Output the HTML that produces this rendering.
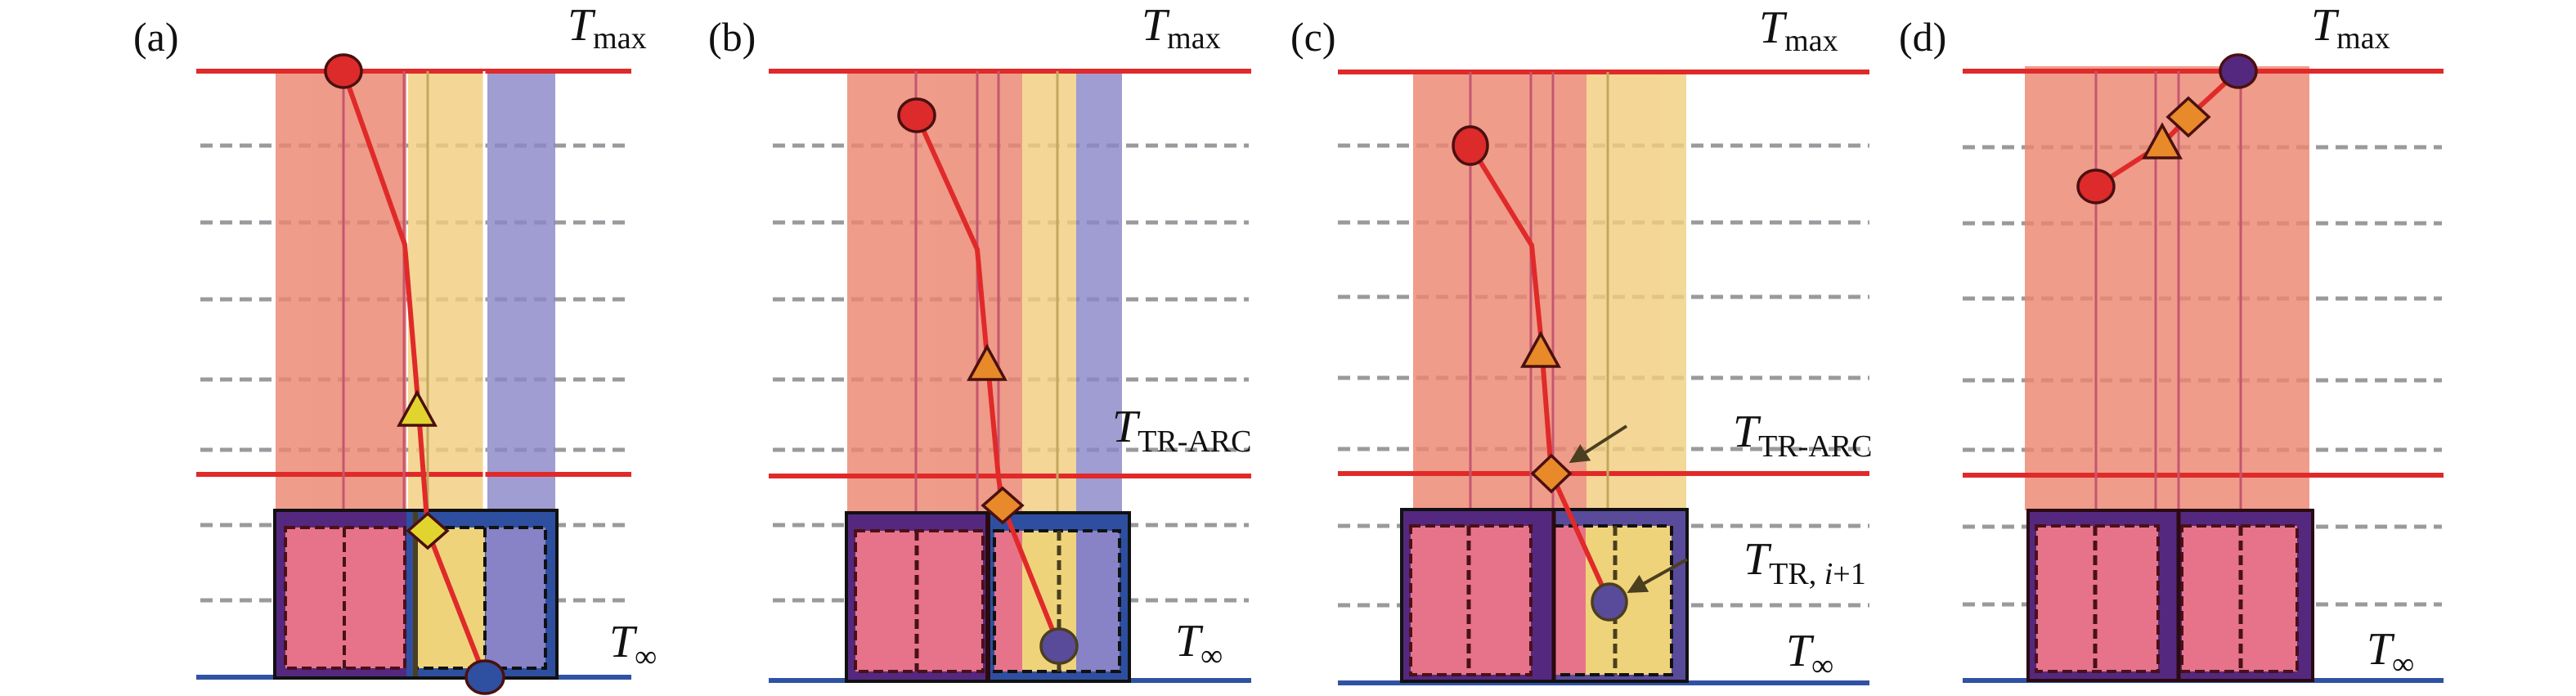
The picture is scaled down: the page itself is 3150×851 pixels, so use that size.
<!DOCTYPE html>
<html><head><meta charset="utf-8"><style>
html,body{margin:0;padding:0;background:#fff;}
svg{display:block;}
text{font-family:"Liberation Serif",serif;fill:#111;}
.T{font-style:italic;font-size:56px;}
.s{font-size:38px;}
.lab{font-size:50px;}
</style></head><body>
<svg width="3150" height="851" viewBox="0 0 3150 851" xmlns="http://www.w3.org/2000/svg">
<defs>
<marker id="ah" markerWidth="6" markerHeight="6" refX="5" refY="3" orient="auto" markerUnits="strokeWidth">
<path d="M0,0 L6,3 L0,6 Z" fill="#4a3f1f"/></marker>
</defs>
<g stroke="#9a9a9e" stroke-width="5" stroke-dasharray="15 9">
<path d="M245 178H770M245 272H770M245 366H770M245 464H770M245 550H770M245 642H770M245 734H770"/>
<path d="M945 178H1527M945 272H1527M945 366H1527M945 464H1527M945 550H1527M945 642H1527M945 734H1527"/>
<path d="M1636 178H2286M1636 272H2286M1636 363H2286M1636 462H2286M1636 549H2286M1636 643H2286M1636 740H2286"/>
<path d="M2400 180H2986M2400 273H2986M2400 365H2986M2400 465H2986M2400 550H2986M2400 644H2986M2400 739H2986"/>
</g>
<g opacity="0.82">
<rect x="337" y="87" width="160" height="537" fill="#eb8670"/>
<rect x="499" y="87" width="94" height="537" fill="#f2cf80"/>
<rect x="596" y="87" width="83" height="537" fill="#8a88c8"/>
<rect x="1036" y="87" width="214" height="540" fill="#eb8670"/>
<rect x="1250" y="87" width="66" height="540" fill="#f2cf80"/>
<rect x="1316" y="87" width="56" height="540" fill="#8a88c8"/>
<rect x="1728" y="88" width="212" height="535" fill="#eb8670"/>
<rect x="1940" y="88" width="122" height="535" fill="#f2cf80"/>
<rect x="2476" y="81" width="348" height="543" fill="#eb8670"/>
</g>
<g stroke="#e02a2a" stroke-width="6">
<path d="M240 87H772M240 580H772"/>
<path d="M940 87H1530M940 582H1530"/>
<path d="M1636 88H2286M1636 579H2286"/>
<path d="M2400 87H2988M2400 581H2988"/>
</g>
<g stroke="#2f52a3" stroke-width="6">
<path d="M240 828H772M940 832H1530M1636 835H2286M2400 832H2988"/>
</g>
<g stroke="#c4566f" stroke-width="3">
<path d="M420 87V624M494 87V624M1120 87V627M1195 87V627M1221 87V627M1798 88V623M1872 88V623M1899 88V623M2563 87V624M2636 87V624M2664 87V624M2740 87V624"/>
</g>
<g stroke="#c2a85e" stroke-width="3"><path d="M523 87V624M1293 87V627M1966 88V623"/></g>
<path d="M592 87V624" stroke="#fff" stroke-width="3"/>

<rect x="336" y="624" width="161" height="205" fill="#55287f"/>
<rect x="497" y="624" width="184" height="205" fill="#2e4fa0"/>
<rect x="349" y="645" width="146" height="172" fill="#e6738a" stroke="#4a1018" stroke-width="4" stroke-dasharray="12 6"/>
<path d="M421 645V817" stroke="#4a1018" stroke-width="4" stroke-dasharray="12 6"/>
<rect x="508" y="645" width="85" height="172" fill="#efd37a"/>
<rect x="594" y="645" width="73" height="172" fill="#8783c6"/>
<rect x="508" y="645" width="159" height="172" fill="none" stroke="#111" stroke-width="4" stroke-dasharray="12 6"/>
<path d="M593 645V817" stroke="#111" stroke-width="4" stroke-dasharray="12 6"/>
<path d="M508 624V829" stroke="#4a3f1f" stroke-width="6"/>
<rect x="336" y="624" width="345" height="205" fill="none" stroke="#111" stroke-width="4"/>

<rect x="1035" y="627" width="173" height="206" fill="#55287f"/>
<rect x="1208" y="627" width="173" height="206" fill="#2e4fa0"/>
<rect x="1046" y="649" width="156" height="172" fill="#e6738a" stroke="#4a1018" stroke-width="4" stroke-dasharray="12 6"/>
<path d="M1121 649V821" stroke="#4a1018" stroke-width="5" stroke-dasharray="12 6"/>
<rect x="1216" y="649" width="34" height="172" fill="#e6738a"/>
<rect x="1250" y="649" width="66" height="172" fill="#efd37a"/>
<rect x="1316" y="649" width="53" height="172" fill="#8783c6"/>
<rect x="1216" y="649" width="153" height="172" fill="none" stroke="#111" stroke-width="4" stroke-dasharray="12 6"/>
<path d="M1295 649V821" stroke="#4a3f1f" stroke-width="5" stroke-dasharray="12 6"/>
<path d="M1208 627V835" stroke="#2a0a10" stroke-width="6"/>
<rect x="1035" y="627" width="346" height="206" fill="none" stroke="#111" stroke-width="4"/>

<rect x="1714" y="623" width="186" height="210" fill="#55287f"/>
<rect x="1900" y="623" width="163" height="210" fill="#5a4a9a"/>
<rect x="1725" y="643" width="147" height="182" fill="#e6738a" stroke="#4a1018" stroke-width="4" stroke-dasharray="12 6"/>
<path d="M1796 643V825" stroke="#4a1018" stroke-width="5" stroke-dasharray="12 6"/>
<rect x="1900" y="643" width="39" height="182" fill="#e6738a"/>
<rect x="1939" y="643" width="105" height="182" fill="#efd37a"/>
<rect x="1900" y="643" width="144" height="182" fill="none" stroke="#111" stroke-width="4" stroke-dasharray="12 6"/>
<path d="M1975 643V825" stroke="#4a3f1f" stroke-width="5" stroke-dasharray="12 6"/>
<path d="M1900 623V835" stroke="#2a0a10" stroke-width="5"/>
<rect x="1714" y="623" width="349" height="210" fill="none" stroke="#111" stroke-width="4"/>

<rect x="2480" y="624" width="348" height="208" fill="#55287f"/>
<rect x="2490" y="643" width="149" height="178" fill="#e6738a" stroke="#4a1018" stroke-width="4" stroke-dasharray="12 6"/>
<path d="M2562 643V821" stroke="#4a1018" stroke-width="5" stroke-dasharray="12 6"/>
<rect x="2668" y="643" width="141" height="178" fill="#e6738a" stroke="#4a1018" stroke-width="4" stroke-dasharray="12 6"/>
<path d="M2740 643V821" stroke="#4a1018" stroke-width="5" stroke-dasharray="12 6"/>
<path d="M2664 624V832" stroke="#2a0a10" stroke-width="5"/>
<rect x="2480" y="624" width="348" height="208" fill="none" stroke="#2a0a10" stroke-width="4"/>

<g fill="none" stroke="#e02a2a" stroke-width="6" stroke-linejoin="round">
<polyline points="420,87 495,299 510,478 523,649 593,828"/>
<polyline points="1121,141 1195,305 1207,436 1221,584 1226,618 1295,790"/>
<polyline points="1798,178 1873,300 1884,410 1897,579 1968,736"/>
<polyline points="2563,228 2644,176 2676,143 2737,87"/>
</g>
<g stroke="#4a1010" stroke-width="3.5">
<ellipse cx="420" cy="87" rx="22" ry="20" fill="#dd2a2a"/>
<polygon points="510,480 488,520 532,520" fill="#e2d42e"/>
<polygon points="523,628 547,649 523,670 499,649" fill="#e2d42e"/>
<ellipse cx="593" cy="828" rx="23" ry="20" fill="#2f4fa0"/>

<ellipse cx="1121" cy="141" rx="22" ry="20" fill="#dd2a2a"/>
<polygon points="1207,424 1185,464 1229,464" fill="#e8892a"/>
<polygon points="1226,597 1250,618 1226,639 1202,618" fill="#e8892a"/>
<ellipse cx="1295" cy="790" rx="22" ry="21" fill="#5a4a9a" stroke="#4a3f1f"/>

<ellipse cx="1798" cy="178" rx="21" ry="23" fill="#dd2a2a"/>
<polygon points="1884,408 1862,448 1906,448" fill="#e8892a"/>
<polygon points="1897,557 1920,579 1897,601 1874,579" fill="#e8892a"/>
<ellipse cx="1968" cy="736" rx="21" ry="22" fill="#5a4a9a" stroke="#4a3f1f"/>

<ellipse cx="2563" cy="228" rx="22" ry="20" fill="#dd2a2a"/>
<polygon points="2644,153 2622,193 2666,193" fill="#e8892a"/>
<polygon points="2676,120 2701,143 2676,166 2651,143" fill="#e8892a"/>
<ellipse cx="2737" cy="87" rx="22" ry="20" fill="#55287f"/>
</g>
<g stroke="#4a3f1f" stroke-width="4" marker-end="url(#ah)">
<line x1="1989" y1="521" x2="1922" y2="564"/>
<line x1="2063" y1="684" x2="1993" y2="723"/>
</g>

<text class="lab" x="163" y="62">(a)</text>
<text class="lab" x="866" y="62">(b)</text>
<text class="lab" x="1578" y="62">(c)</text>
<text class="lab" x="2322" y="62">(d)</text>

<text x="694" y="49"><tspan class="T">T</tspan><tspan class="s" dy="10">max</tspan></text>
<text x="1396" y="49"><tspan class="T">T</tspan><tspan class="s" dy="10">max</tspan></text>
<text x="2151" y="52"><tspan class="T">T</tspan><tspan class="s" dy="10">max</tspan></text>
<text x="2826" y="49"><tspan class="T">T</tspan><tspan class="s" dy="10">max</tspan></text>

<text x="1360" y="540"><tspan class="T">T</tspan><tspan class="s" dy="12">TR-ARC</tspan></text>
<text x="2119" y="546"><tspan class="T">T</tspan><tspan class="s" dy="12">TR-ARC</tspan></text>
<text x="2132" y="702"><tspan class="T">T</tspan><tspan class="s" dy="12">TR, </tspan><tspan class="s" font-style="italic">i</tspan><tspan class="s">+1</tspan></text>

<text x="745" y="803"><tspan class="T">T</tspan><tspan class="s" dy="12">∞</tspan></text>
<text x="1437" y="802"><tspan class="T">T</tspan><tspan class="s" dy="12">∞</tspan></text>
<text x="2184" y="814"><tspan class="T">T</tspan><tspan class="s" dy="12">∞</tspan></text>
<text x="2894" y="812"><tspan class="T">T</tspan><tspan class="s" dy="12">∞</tspan></text>
</svg>
</body></html>
